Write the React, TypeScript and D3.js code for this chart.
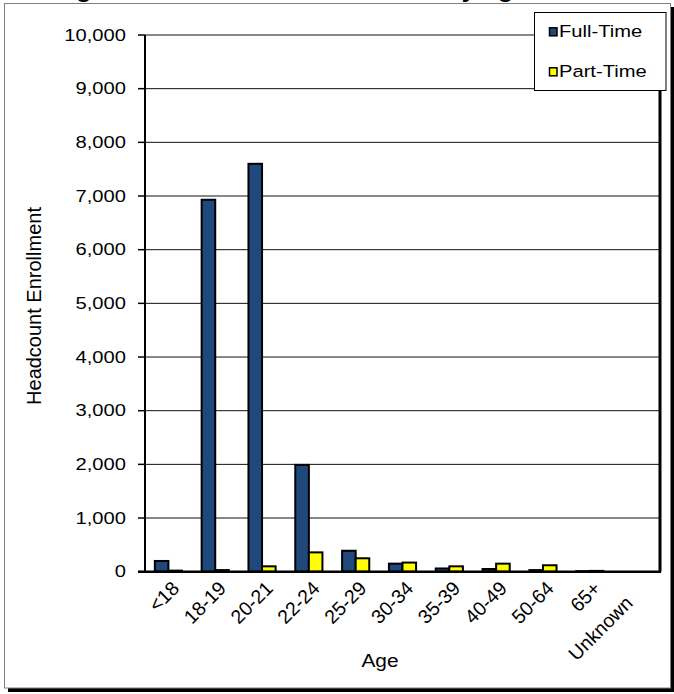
import React from "react";
import * as d3 from "d3";

const categories = ["<18", "18-19", "20-21", "22-24", "25-29", "30-34", "35-39", "40-49", "50-64", "65+", "Unknown"];
const fullTime = [200, 6930, 7600, 1990, 390, 150, 60, 50, 30, 10, 0];
const partTime = [20, 30, 100, 360, 250, 170, 100, 150, 120, 15, 0];
const seriesNames = ["Full-Time", "Part-Time"];
const seriesColors = ["#1F497D", "#FFFF00"];
const yTicks = [0, 1000, 2000, 3000, 4000, 5000, 6000, 7000, 8000, 9000, 10000];
const titleText = "Undergraduate Headcount Enrollment by Age";
const xTitle = "Age";
const yTitle = "Headcount Enrollment";

const W = 674;
const H = 694;
const plot = { left: 145, right: 660, top: 35, bottom: 571.7 };
const FONT = "'Liberation Sans', Arial, sans-serif";
const SX = 1.2;
const LABEL_MAX_X = 634;

export default function App() {
  const x0 = d3
    .scaleBand<string>()
    .domain(categories)
    .range([plot.left, plot.right])
    .paddingInner(0.42)
    .paddingOuter(0.21);
  const x1 = d3.scaleBand<string>().domain(seriesNames).range([0, x0.bandwidth()]).padding(0);
  const y = d3.scaleLinear().domain([0, 10000]).range([plot.bottom, plot.top]);
  const fmt = d3.format(",");
  const series = [fullTime, partTime];

  return (
    <div style={{ position: "absolute", left: 0, top: 0 }}>
      <svg width={W} height={H} style={{ display: "block", fontFamily: FONT }}>
        <rect x={0} y={0} width={W} height={H} fill="#fff" />
        {/* title, mostly cut off as in the reference */}
        <text
          transform={`translate(7.3,-2) scale(${SX},1)`}
          fontSize={20}
          fontWeight="bold"
          fill="#000"
        >
          {titleText}
        </text>
        {/* outer chart border with shadow */}
        <rect x={8} y={688} width={666} height={4} fill="#000" />
        <rect x={671} y={7} width={3} height={685} fill="#000" />
        <rect x={4.5} y={3.5} width={666} height={684.5} fill="#fff" stroke="#808080" strokeWidth={1} />

        {/* gridlines */}
        {yTicks.map((t) => (
          <line
            key={"g" + t}
            x1={plot.left}
            x2={plot.right}
            y1={y(t)}
            y2={y(t)}
            stroke="#111"
            strokeWidth={1}
          />
        ))}
        {/* y ticks & labels */}
        {yTicks.map((t) => (
          <g key={"t" + t}>
            <line x1={plot.left - 7} x2={plot.left} y1={y(t)} y2={y(t)} stroke="#000" strokeWidth={1.5} />
            <text
              transform={`translate(126,${y(t) + 5.5}) scale(${SX},1)`}
              fontSize={16.8}
              textAnchor="end"
              fill="#000"
            >
              {fmt(t)}
            </text>
          </g>
        ))}

        {/* bars */}
        {series.map((vals, si) =>
          categories.map((c, i) => {
            const v = vals[i];
            if (v <= 0) return null;
            const bx = (x0(c) as number) + (x1(seriesNames[si]) as number);
            const bw = x1.bandwidth();
            const top = y(v);
            return (
              <rect
                key={si + "-" + c}
                x={bx}
                y={top}
                width={bw}
                height={plot.bottom - top}
                fill={seriesColors[si]}
                stroke="#000"
                strokeWidth={2}
              />
            );
          })
        )}

        {/* axes */}
        <line x1={plot.left} x2={plot.left} y1={plot.top} y2={plot.bottom} stroke="#000" strokeWidth={2} />
        <line x1={plot.left - 7} x2={plot.right + 1} y1={plot.bottom} y2={plot.bottom} stroke="#000" strokeWidth={2.5} />
        <line x1={plot.right} x2={plot.right} y1={plot.top} y2={plot.bottom} stroke="#000" strokeWidth={3} />

        {/* x labels */}
        {categories.map((c) => {
          const cx = (x0(c) as number) + x0.bandwidth() / 2;
          const ax = cx + 12;
          const shift = Math.max(0, ax - LABEL_MAX_X) / Math.SQRT1_2;
          return (
            <text
              key={"x" + c}
              transform={`translate(${ax},${plot.bottom + 18}) rotate(-45) translate(${-shift},0)`}
              fontSize={19.5}
              textAnchor="end"
              fill="#000"
            >
              {c}
            </text>
          );
        })}

        {/* axis titles */}
        <text
          transform={`translate(380,667) scale(1.1,1)`}
          fontSize={19}
          textAnchor="middle"
          fill="#000"
        >
          {xTitle}
        </text>
        <text
          transform={`translate(41,306) rotate(-90)`}
          fontSize={20}
          textAnchor="middle"
          fill="#000"
        >
          {yTitle}
        </text>

        {/* legend */}
        <rect x={534.5} y={12.5} width={131.5} height={78} fill="#fff" stroke="#000" strokeWidth={1} />
        {seriesNames.map((s, i) => {
          const ly = 37.3 + i * 40;
          return (
            <g key={"l" + s}>
              <rect x={549.5} y={ly - 9.5} width={7.5} height={8} fill={seriesColors[i]} stroke="#000" strokeWidth={1.5} />
              <text
                transform={`translate(559,${ly}) scale(${SX},1)`}
                fontSize={16.8}
                fill="#000"
              >
                {s}
              </text>
            </g>
          );
        })}
      </svg>
    </div>
  );
}
